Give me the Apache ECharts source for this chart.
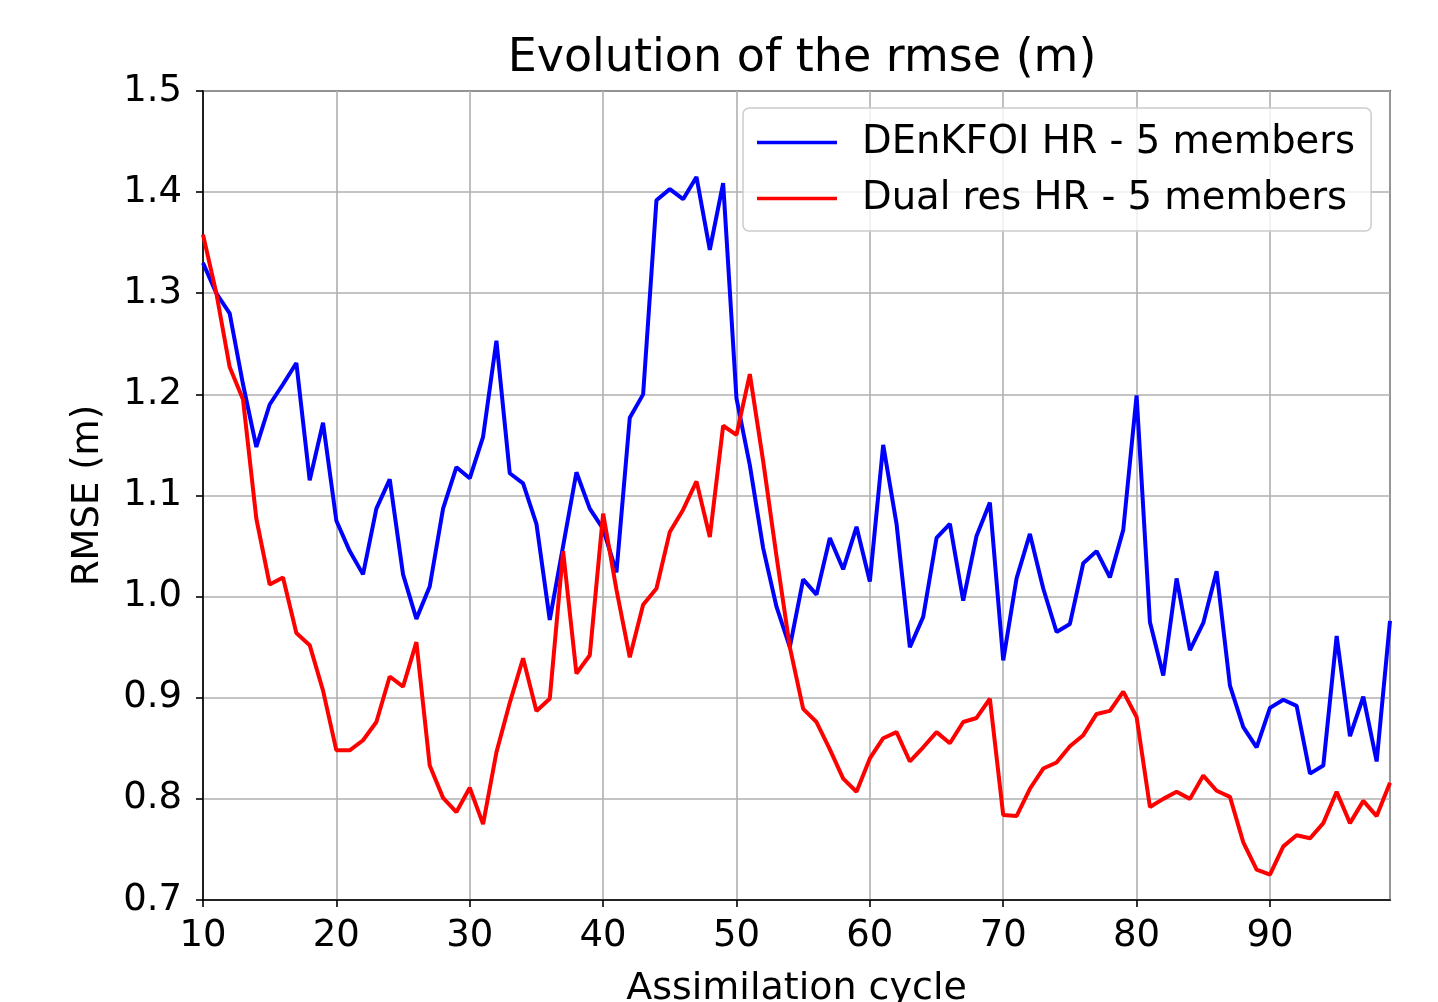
<!DOCTYPE html>
<html>
<head>
<meta charset="utf-8">
<script src="https://cdn.jsdelivr.net/npm/echarts@6/dist/echarts.min.js"></script>
<style>
    html, body { margin: 0; padding: 0; background: #fff; }
    #chart { width: 1438px; height: 1002px; }
</style>
</head>
<body>
<div id="chart"></div>
<script>
// assimilation cycles 10..99
const cycles = [10, 11, 12, 13, 14, 15, 16, 17, 18, 19,
    20, 21, 22, 23, 24, 25, 26, 27, 28, 29,
    30, 31, 32, 33, 34, 35, 36, 37, 38, 39,
    40, 41, 42, 43, 44, 45, 46, 47, 48, 49,
    50, 51, 52, 53, 54, 55, 56, 57, 58, 59,
    60, 61, 62, 63, 64, 65, 66, 67, 68, 69,
    70, 71, 72, 73, 74, 75, 76, 77, 78, 79,
    80, 81, 82, 83, 84, 85, 86, 87, 88, 89,
    90, 91, 92, 93, 94, 95, 96, 97, 98, 99];

// DEnKFOI HR - 5 members
const denkfoi = [1.330, 1.300, 1.280, 1.210, 1.148, 1.190, 1.210, 1.231, 1.115, 1.172,
    1.075, 1.045, 1.022, 1.087, 1.116, 1.022, 0.978, 1.010, 1.087, 1.128,
    1.117, 1.158, 1.253, 1.122, 1.112, 1.072, 0.977, 1.050, 1.123, 1.087,
    1.067, 1.024, 1.177, 1.200, 1.392, 1.403, 1.393, 1.415, 1.343, 1.409,
    1.196, 1.130, 1.048, 0.990, 0.950, 1.017, 1.002, 1.058, 1.027, 1.069,
    1.015, 1.150, 1.072, 0.950, 0.980, 1.058, 1.072, 0.996, 1.060, 1.093,
    0.937, 1.018, 1.062, 1.008, 0.965, 0.973, 1.033, 1.045, 1.019, 1.066,
    1.199, 0.975, 0.922, 1.018, 0.947, 0.974, 1.025, 0.912, 0.871, 0.851,
    0.890, 0.898, 0.892, 0.825, 0.833, 0.961, 0.862, 0.901, 0.837, 0.976];

// Dual res HR - 5 members
const dualres = [1.358, 1.300, 1.227, 1.195, 1.077, 1.012, 1.019, 0.964, 0.952, 0.907,
    0.848, 0.848, 0.858, 0.876, 0.921, 0.911, 0.955, 0.833, 0.801, 0.787,
    0.811, 0.775, 0.846, 0.895, 0.939, 0.887, 0.899, 1.045, 0.924, 0.942,
    1.082, 1.007, 0.940, 0.992, 1.008, 1.064, 1.086, 1.114, 1.059, 1.169,
    1.160, 1.220, 1.134, 1.040, 0.950, 0.889, 0.876, 0.849, 0.820, 0.807,
    0.840, 0.860, 0.866, 0.837, 0.851, 0.866, 0.855, 0.876, 0.880, 0.899,
    0.784, 0.783, 0.810, 0.830, 0.836, 0.852, 0.863, 0.884, 0.887, 0.906,
    0.881, 0.792, 0.800, 0.807, 0.800, 0.823, 0.808, 0.802, 0.757, 0.730,
    0.725, 0.753, 0.764, 0.761, 0.776, 0.807, 0.776, 0.798, 0.783, 0.816];

const seriesNames = ['DEnKFOI HR - 5 members', 'Dual res HR - 5 members'];

const font = 'DejaVu Sans';

function pairs(ys) {
    return cycles.map((c, i) => [c, ys[i]]);
}

const chart = echarts.init(document.getElementById('chart'));

chart.setOption({
    animation: false,
    backgroundColor: '#fff',
    title: {
        text: 'Evolution of the rmse (m)',
        left: 797,
        textAlign: 'center',
        top: 31,
        textStyle: { fontFamily: font, fontSize: 46, fontWeight: 'normal', color: '#000' }
    },
    grid: {
        left: 203, right: 48, top: 91, bottom: 102,
        show: true, borderColor: '#000', borderWidth: 1.6,
        containLabel: false,
        outerBoundsMode: 'none'
    },
    legend: {
        orient: 'vertical',
        left: 743,
        top: 108,
        padding: [15, 16, 13, 14],
        itemGap: 17,
        itemWidth: 80,
        itemHeight: 3.5,
        icon: 'rect',
        backgroundColor: 'rgba(255,255,255,0.8)',
        borderColor: '#cccccc',
        borderWidth: 1.5,
        borderRadius: 6,
        textStyle: { fontFamily: font, fontSize: 38.5, color: '#000', padding: [0, 14, 0, 20] },
        data: seriesNames
    },
    xAxis: {
        type: 'value',
        min: 10,
        max: 99,
        interval: 10,
        name: 'Assimilation cycle',
        nameLocation: 'middle',
        nameGap: 70,
        nameTextStyle: { fontFamily: font, fontSize: 38, color: '#000' },
        axisLine: { show: true, onZero: false, lineStyle: { color: '#000', width: 1.6 } },
        axisTick: { show: true, inside: false, length: 7, lineStyle: { color: '#000', width: 1.6 } },
        axisLabel: { fontFamily: font, fontSize: 37, color: '#000', margin: 18, showMaxLabel: false },
        splitLine: { show: true, lineStyle: { color: '#b0b0b0', width: 1.6 } }
    },
    yAxis: {
        type: 'value',
        min: 0.7,
        max: 1.5,
        interval: 0.1,
        name: 'RMSE (m)',
        nameLocation: 'middle',
        nameGap: 96,
        nameRotate: 90,
        nameTextStyle: { fontFamily: font, fontSize: 37, color: '#000' },
        axisLine: { show: true, lineStyle: { color: '#000', width: 1.6 } },
        axisTick: { show: true, inside: false, length: 7, lineStyle: { color: '#000', width: 1.6 } },
        axisLabel: {
            fontFamily: font, fontSize: 37, color: '#000', margin: 21,
            formatter: v => v.toFixed(1)
        },
        splitLine: { show: true, lineStyle: { color: '#b0b0b0', width: 1.6 } }
    },
    series: [
        {
            name: seriesNames[0],
            type: 'line',
            data: pairs(denkfoi),
            symbol: 'none',
            color: '#0000ff',
            lineStyle: { color: '#0000ff', width: 4 }
        },
        {
            name: seriesNames[1],
            type: 'line',
            data: pairs(dualres),
            symbol: 'none',
            color: '#ff0000',
            lineStyle: { color: '#ff0000', width: 4 }
        }
    ]
});
</script>
</body>
</html>
